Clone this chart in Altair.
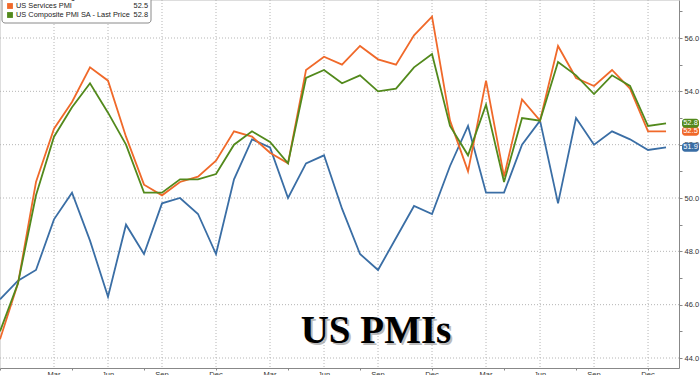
import altair as alt
import pandas as pd

# ---------------- data ----------------
months = [
    "2022-12",
    "2023-01", "2023-02", "2023-03", "2023-04", "2023-05", "2023-06",
    "2023-07", "2023-08", "2023-09", "2023-10", "2023-11", "2023-12",
    "2024-01", "2024-02", "2024-03", "2024-04", "2024-05", "2024-06",
    "2024-07", "2024-08", "2024-09", "2024-10", "2024-11", "2024-12",
    "2025-01", "2025-02", "2025-03", "2025-04", "2025-05", "2025-06",
    "2025-07", "2025-08", "2025-09", "2025-10", "2025-11", "2025-12",
    "2026-01",
]
manufacturing = [
    46.2,
    46.9, 47.3, 49.2, 50.2, 48.4, 46.3, 49.0, 47.9, 49.8, 50.0, 49.4, 47.9,
    50.7, 52.2, 51.9, 50.0, 51.3, 51.6, 49.6, 47.9, 47.3, 48.5, 49.7, 49.4,
    51.2, 52.7, 50.2, 50.2, 52.0, 52.9, 49.8, 53.0, 52.0, 52.5, 52.2, 51.8,
    51.9,
]
services = [
    44.7,
    46.8, 50.6, 52.6, 53.6, 54.9, 54.4, 52.3, 50.5, 50.1, 50.6, 50.8, 51.4,
    52.5, 52.3, 51.7, 51.3, 54.8, 55.3, 55.0, 55.7, 55.2, 55.0, 56.1, 56.8,
    52.9, 51.0, 54.4, 50.8, 53.7, 52.9, 55.7, 54.5, 54.2, 54.8, 54.1, 52.5,
    52.5,
]
composite = [
    45.0,
    46.8, 50.1, 52.3, 53.4, 54.3, 53.2, 52.0, 50.2, 50.2, 50.7, 50.7, 50.9,
    52.0, 52.5, 52.1, 51.3, 54.5, 54.8, 54.3, 54.6, 54.0, 54.1, 54.9, 55.4,
    52.7, 51.6, 53.5, 50.6, 53.0, 52.9, 55.1, 54.6, 53.9, 54.6, 54.2, 52.7,
    52.8,
]
series_names = ["US Manufacturing PMI", "US Services PMI", "US Composite PMI SA - Last Price"]
series_colors = ["#3a6ea5", "#f0692a", "#52891c"]
month_abbr = ["Dec", "Jan", "Feb", "Mar", "Apr", "May", "Jun", "Jul", "Aug", "Sep", "Oct", "Nov"]
y_ticks = list(range(44, 58))
y_grid = [44, 46, 48, 50, 52, 54, 56]
x_quarters = list(range(3, 37, 3))
quarter_labels = [month_abbr[q % 12] for q in x_quarters]
title_text = ["US PMIs"]

# ---------------- tables ----------------
rows = []
for name, vals in zip(series_names, [manufacturing, services, composite]):
    for i, (m, v) in enumerate(zip(months, vals)):
        rows.append({"idx": i, "month": m, "value": v, "series": name})
df = pd.DataFrame(rows)

last = pd.DataFrame({
    "series": series_names,
    "value": [manufacturing[-1], services[-1], composite[-1]],
})
last["label"] = last["value"].map(lambda v: f"{v:.1f}")

legend_df = pd.DataFrame({
    "row": [0, 1, 2],
    "series": series_names,
    "val": [f"{manufacturing[-1]:.1f}", f"{services[-1]:.1f}", f"{composite[-1]:.1f}"],
})
qdf = pd.DataFrame({"q": x_quarters, "lab": quarter_labels})

W, H = 679, 368
xscale = alt.Scale(domain=[0, 37.72], nice=False, zero=False)
yscale = alt.Scale(domain=[43.625, 57.425], nice=False, zero=False)
cscale = alt.Scale(domain=series_names, range=series_colors)
FONT = "Liberation Sans"

xaxis = alt.Axis(
    values=list(range(0, len(months))), labels=False,
    title=None, grid=False, tickSize=2, tickColor="#888", domainColor="#888",
)
yaxis = alt.Axis(
    orient="right", values=y_ticks,
    labelExpr="datum.value % 2 == 0 ? format(datum.value, '.1f') : ''",
    title=None, grid=False, tickSize=3, tickColor="#888", domainColor="#888",
    labelFont=FONT, labelFontSize=7.5, labelColor="#333", labelPadding=2,
    labelOverlap=False,
)

# gridlines
xgrid = alt.Chart(qdf).mark_rule(
    color="#b5b5b5", strokeDash=[1, 2], strokeWidth=1
).encode(x=alt.X("q:Q", scale=xscale))
ygrid = alt.Chart(pd.DataFrame({"g": y_grid})).mark_rule(
    color="#b5b5b5", strokeDash=[1, 2], strokeWidth=1
).encode(y=alt.Y("g:Q", scale=yscale, axis=None))

lines = alt.Chart(df).mark_line(strokeWidth=1.8).encode(
    x=alt.X("idx:Q", scale=xscale, axis=xaxis),
    y=alt.Y("value:Q", scale=yscale, axis=yaxis),
    color=alt.Color("series:N", scale=cscale, legend=None),
    detail="series:N",
)

# quarter month labels under the axis
xlabels = alt.Chart(qdf).mark_text(
    font=FONT, fontSize=7.5, color="#333", align="center", baseline="top"
).encode(x=alt.X("q:Q", scale=xscale), y=alt.value(H + 3), text="lab:N")

# end-value tags
tags = alt.Chart(last).mark_rect(width=17, height=9, cornerRadius=3).encode(
    x=alt.value(690.5),
    y=alt.Y("value:Q", scale=yscale, axis=None),
    color=alt.Color("series:N", scale=cscale, legend=None),
)
tag_text = alt.Chart(last).mark_text(
    font=FONT, fontSize=7.5, color="white", align="center", baseline="middle"
).encode(
    x=alt.value(690.5),
    y=alt.Y("value:Q", scale=yscale, axis=None),
    text="label:N",
)

# legend box
box = alt.Chart(pd.DataFrame({"a": [0]})).mark_rect(
    fill="white", stroke="#8a8a8a", strokeWidth=1, cornerRadius=3
).encode(x=alt.value(2), x2=alt.value(151), y=alt.value(-10), y2=alt.value(23))
lrow = alt.Scale(domain=[0, 2], range=[-3, 15])
lsq = alt.Chart(legend_df).mark_square(size=34, opacity=1).encode(
    x=alt.value(10),
    y=alt.Y("row:Q", scale=lrow, axis=None),
    color=alt.Color("series:N", scale=cscale, legend=None),
)
lname = alt.Chart(legend_df).mark_text(
    font=FONT, fontSize=7.4, color="#222", align="left", baseline="middle"
).encode(x=alt.value(16), y=alt.Y("row:Q", scale=lrow, axis=None), text="series:N")
lval = alt.Chart(legend_df).mark_text(
    font=FONT, fontSize=7.4, color="#222", align="right", baseline="middle"
).encode(x=alt.value(148), y=alt.Y("row:Q", scale=lrow, axis=None), text="val:N")

# big title
tdf = pd.DataFrame({"t": title_text})
shadow = alt.Chart(tdf).mark_text(
    font="Liberation Serif", fontWeight="bold", fontSize=39, color="#7a7a7a",
    opacity=0.5, align="center", baseline="alphabetic", dx=2, dy=2,
).encode(x=alt.value(376), y=alt.value(343), text="t:N")
title = alt.Chart(tdf).mark_text(
    font="Liberation Serif", fontWeight="bold", fontSize=39, color="#000",
    align="center", baseline="alphabetic",
).encode(x=alt.value(376), y=alt.value(343), text="t:N")

chart = alt.layer(
    xgrid, ygrid, shadow, title, lines, xlabels, tags, tag_text, box, lsq, lname, lval
).resolve_scale(y="independent").properties(
    width=W, height=H,
    autosize=alt.AutoSizeParams(type="none"),
    padding={"left": 0, "top": 0, "right": 21, "bottom": 7},
).configure_view(stroke=None).configure(background="white")

chart.save("out.html", embed_options={"renderer": "svg", "actions": False})
